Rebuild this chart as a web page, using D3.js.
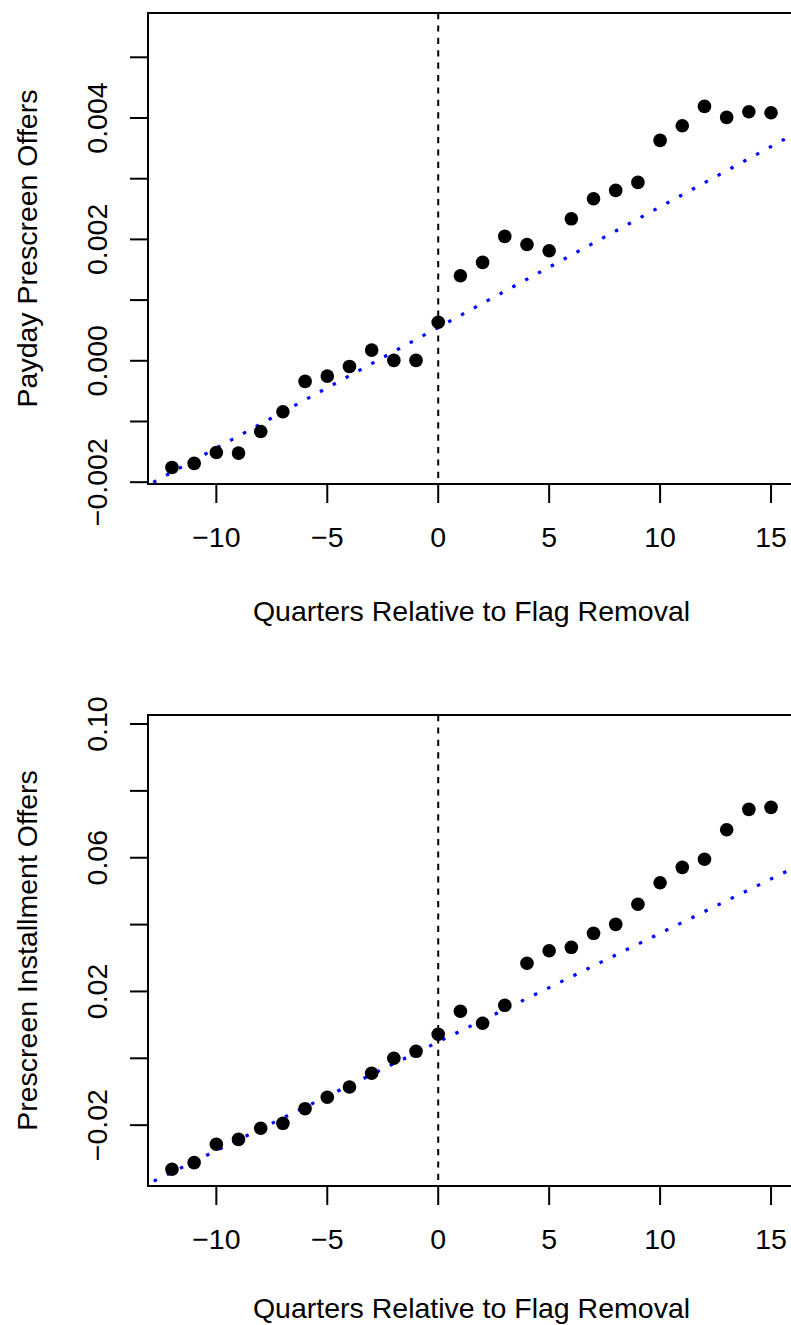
<!DOCTYPE html>
<html>
<head>
<meta charset="utf-8">
<script src="https://cdn.jsdelivr.net/npm/d3@7"></script>
<style>
  body { margin: 0; background: #fff; }
  svg { display: block; }
  text { font-family: "Liberation Sans", Arial, Helvetica, sans-serif; fill: #000; }
</style>
</head>
<body>
<div id="chart"></div>
<script>
//Quarters relative to flag removal (x values, shared by both panels)
var quarters = [-12,-11,-10,-9,-8,-7,-6,-5,-4,-3,-2,-1,0,1,2,3,4,5,6,7,8,9,10,11,12,13,14,15];

//Panel 1: payday prescreen offers
var paydayOffers = [-0.001757,-0.001691,-0.001510,-0.001521,-0.001164,-0.000839,-0.000340,-0.000252,-0.000093,0.000176,0.000006,0.000006,
                    0.000635,0.001401,0.001621,0.002049,0.001917,0.001812,0.002339,0.002669,0.002807,0.002939,0.003631,0.003872,0.004191,0.004010,0.004102,0.004086];

//Panel 2: prescreen installment offers
var installmentOffers = [-0.03320,-0.03122,-0.02573,-0.02424,-0.02094,-0.01945,-0.01507,-0.01167,-0.00859,-0.00449,0.00000,0.00209,
                         0.00718,0.01406,0.01047,0.01585,0.02842,0.03219,0.03320,0.03739,0.04008,0.04607,0.05253,0.05713,0.05953,0.06838,0.07448,0.07508];

//Pre-period trend lines (value at each end of trendX)
var trendX = [-14, 17];
var paydayTrend = [-0.002233, 0.003927];
var installmentTrend = [-0.0406, 0.06015];

//Axis ticks and labels
var xTicks = [-10,-5,0,5,10,15];
var paydayTicks = [-0.002,-0.001,0,0.001,0.002,0.003,0.004,0.005];
var paydayLabels = [-0.002,0,0.002,0.004];
var installmentTicks = [-0.02,0,0.02,0.04,0.06,0.08,0.10];
var installmentLabels = [-0.02,0.02,0.06,0.10];

var xTitle = "Quarters Relative to Flag Removal";

var width = 791, height = 1325;
var fontSize = 28.5;

var svg = d3.select("#chart").append("svg")
    .attr("width", width)
    .attr("height", height);

//x scale is the same for both panels
var x = d3.scaleLinear().domain([-13.08, 16.08]).range([148, 795]);

function drawPanel(p, id){
    var y = d3.scaleLinear().domain(p.domain).range([p.bottom, p.top]);
    var g = svg.append("g");

    g.append("clipPath").attr("id", id)
      .append("rect")
        .attr("x", x.range()[0]).attr("y", p.top)
        .attr("width", x.range()[1] - x.range()[0]).attr("height", p.bottom - p.top);

    var plot = g.append("g").attr("clip-path", "url(#" + id + ")");

    //vertical dashed line at flag removal
    plot.append("line")
        .attr("x1", x(0)).attr("x2", x(0))
        .attr("y1", p.top).attr("y2", p.bottom)
        .attr("stroke", "#000").attr("stroke-width", 2)
        .attr("stroke-dasharray", "6.2,6.2");

    //blue dotted trend
    var line = d3.line().x(function(d){ return x(d[0]); }).y(function(d){ return y(d[1]); });
    plot.append("path")
        .attr("d", line(d3.zip(trendX, p.trend)))
        .attr("fill", "none")
        .attr("stroke", "#0000ff")
        .attr("stroke-width", 3.2)
        .attr("stroke-dasharray", "3.4,11.2");

    //points
    plot.selectAll("circle")
        .data(d3.zip(quarters, p.values))
        .enter().append("circle")
        .attr("cx", function(d){ return x(d[0]); })
        .attr("cy", function(d){ return y(d[1]); })
        .attr("r", 6.8)
        .attr("fill", "#000");

    //box
    g.append("rect")
        .attr("x", x.range()[0]).attr("y", p.top)
        .attr("width", x.range()[1] - x.range()[0]).attr("height", p.bottom - p.top)
        .attr("fill", "none").attr("stroke", "#000").attr("stroke-width", 2);

    //x axis ticks + labels
    g.selectAll("line.xt").data(xTicks).enter().append("line")
        .attr("class", "xt")
        .attr("x1", x).attr("x2", x)
        .attr("y1", p.bottom).attr("y2", p.bottom + 19)
        .attr("stroke", "#000").attr("stroke-width", 2);

    g.selectAll("text.xl").data(xTicks).enter().append("text")
        .attr("class", "xl")
        .attr("x", x)
        .attr("y", p.bottom + 63)
        .attr("text-anchor", "middle")
        .style("font-size", fontSize + "px")
        .text(d3.format("d"));

    //y axis ticks + labels
    g.selectAll("line.yt").data(p.ticks).enter().append("line")
        .attr("class", "yt")
        .attr("x1", 130).attr("x2", 148)
        .attr("y1", y).attr("y2", y)
        .attr("stroke", "#000").attr("stroke-width", 2);

    g.selectAll("text.yl").data(p.labels).enter().append("text")
        .attr("class", "yl")
        .attr("transform", function(d){ return "translate(106.7," + y(d) + ") rotate(-90)"; })
        .attr("text-anchor", "middle")
        .style("font-size", fontSize + "px")
        .text(d3.format(p.fmt));

    //axis titles
    g.append("text")
        .attr("x", (x.range()[0] + x.range()[1]) / 2)
        .attr("y", p.bottom + p.titleGap)
        .attr("text-anchor", "middle")
        .style("font-size", fontSize + "px")
        .text(xTitle);

    g.append("text")
        .attr("transform", "translate(36.7," + (p.top + p.bottom) / 2 + ") rotate(-90)")
        .attr("text-anchor", "middle")
        .style("font-size", fontSize + "px")
        .text(p.yTitle);
}

drawPanel({
    top: 13, bottom: 484,
    domain: [-0.00203, 0.00573],
    values: paydayOffers, trend: paydayTrend,
    ticks: paydayTicks, labels: paydayLabels, fmt: ".3f",
    yTitle: "Payday Prescreen Offers",
    titleGap: 137
}, "clip1");

drawPanel({
    top: 715, bottom: 1186,
    domain: [-0.0382, 0.1027],
    values: installmentOffers, trend: installmentTrend,
    ticks: installmentTicks, labels: installmentLabels, fmt: ".2f",
    yTitle: "Prescreen Installment Offers",
    titleGap: 132
}, "clip2");
</script>
</body>
</html>
